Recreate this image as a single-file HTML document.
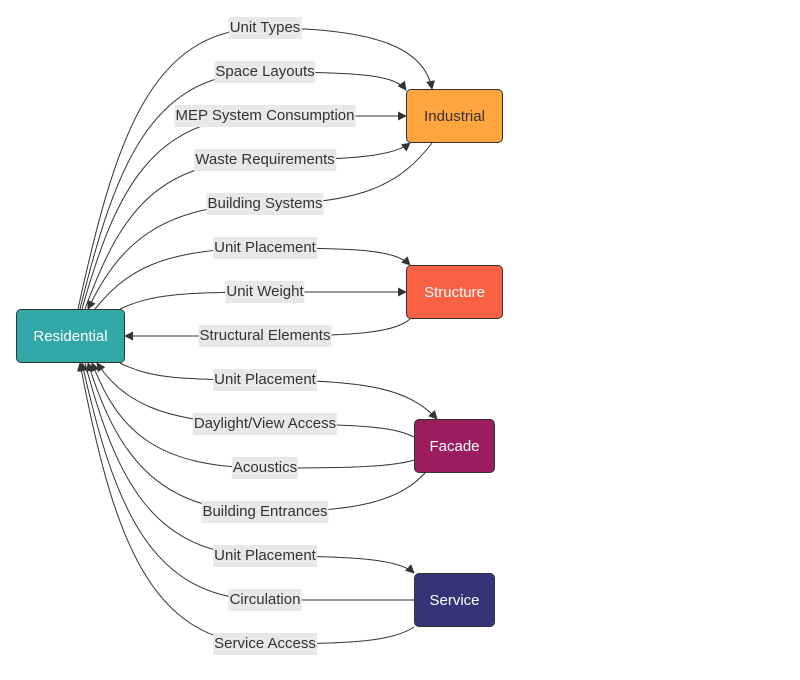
<!DOCTYPE html>
<html><head><meta charset="utf-8"><style>
body{margin:0;background:#fff;width:800px;height:680px;position:relative;overflow:hidden;font-family:"Liberation Sans",sans-serif}
svg{position:absolute;left:0;top:0}
.l{position:absolute;transform:translate(-50%,-50%);background:#e8e8e8;color:#333;font-size:15px;line-height:22px;padding:0 1px;white-space:nowrap}
.n{position:absolute;box-sizing:border-box;border:1px solid #333;border-radius:5px;display:flex;align-items:center;justify-content:center;font-size:15px;color:#fff}
</style></head><body>
<svg width="800" height="680">
<defs><marker id="a" viewBox="0 0 10 10" refX="9" refY="5" markerWidth="9" markerHeight="9" orient="auto" markerUnits="userSpaceOnUse"><path d="M0,0L10,5L0,10z" fill="#333"/></marker></defs>
<g fill="none" stroke="#333" stroke-width="1">
<path d="M78,309 C115,140 150,28 265,28 C380,28 425,50 432,89" marker-end="url(#a)"/>
<path d="M80,309 C115,167 150,72 265,72 C360,72 395,75 406,90" marker-end="url(#a)"/>
<path d="M82,309 C115,193 150,116 265,116 L406,116" marker-end="url(#a)"/>
<path d="M85,309 C118,220 152,160 265,160 C360,160 395,155 410,143" marker-end="url(#a)"/>
<path d="M432,143 C400,185 360,204 265,204 C160,204 118,246 88,309" marker-end="url(#a)"/>
<path d="M95,309 C125,272 160,248 265,248 C360,248 395,250 410,265" marker-end="url(#a)"/>
<path d="M120,309 C150,295 180,292 265,292 L406,292" marker-end="url(#a)"/>
<path d="M410,319 C395,332 360,336 265,336 L125,336" marker-end="url(#a)"/>
<path d="M120,363 C150,378 180,380 265,380 C370,380 410,390 437,419" marker-end="url(#a)"/>
<path d="M414,437 C395,428 370,424 265,424 C160,424 122,400 97,363" marker-end="url(#a)"/>
<path d="M414,460 C390,468 330,468 265,468 C155,468 118,430 92,363" marker-end="url(#a)"/>
<path d="M425,473 C400,500 360,512 265,512 C155,512 116,452 88,363" marker-end="url(#a)"/>
<path d="M85,363 C116,479 152,556 265,556 C360,556 400,560 414,573" marker-end="url(#a)"/>
<path d="M414,600 L265,600 C150,600 114,506 82,363" marker-end="url(#a)"/>
<path d="M414,627 C395,640 360,644 265,644 C148,644 112,532 80,363" marker-end="url(#a)"/>
</g></svg>
<div class="l" style="left:265px;top:28px">Unit Types</div>
<div class="l" style="left:265px;top:72px">Space Layouts</div>
<div class="l" style="left:265px;top:116px">MEP System Consumption</div>
<div class="l" style="left:265px;top:160px">Waste Requirements</div>
<div class="l" style="left:265px;top:204px">Building Systems</div>
<div class="l" style="left:265px;top:248px">Unit Placement</div>
<div class="l" style="left:265px;top:292px">Unit Weight</div>
<div class="l" style="left:265px;top:336px">Structural Elements</div>
<div class="l" style="left:265px;top:380px">Unit Placement</div>
<div class="l" style="left:265px;top:424px">Daylight/View Access</div>
<div class="l" style="left:265px;top:468px">Acoustics</div>
<div class="l" style="left:265px;top:512px">Building Entrances</div>
<div class="l" style="left:265px;top:556px">Unit Placement</div>
<div class="l" style="left:265px;top:600px">Circulation</div>
<div class="l" style="left:265px;top:644px">Service Access</div>
<div class="n" style="left:16px;top:309px;width:109px;height:54px;background:#33a8a8">Residential</div>
<div class="n" style="left:406px;top:89px;width:97px;height:54px;background:#ffa540;color:#333">Industrial</div>
<div class="n" style="left:406px;top:265px;width:97px;height:54px;background:#f96144">Structure</div>
<div class="n" style="left:414px;top:419px;width:81px;height:54px;background:#9b1d5f">Facade</div>
<div class="n" style="left:414px;top:573px;width:81px;height:54px;background:#343577">Service</div>
</body></html>
